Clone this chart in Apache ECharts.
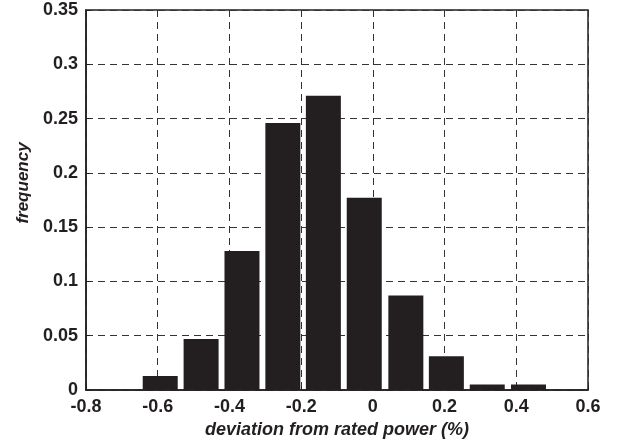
<!DOCTYPE html>
<html>
<head>
<meta charset="utf-8">
<script src="https://cdn.jsdelivr.net/npm/echarts@6/dist/echarts.min.js"></script>
<style>
html,body{margin:0;padding:0;background:#fff;}
#chart{width:620px;height:442px;}
</style>
</head>
<body>
<div id="chart"></div>
<script>
const binCenters = [-0.593, -0.479, -0.365, -0.251, -0.138, -0.024, 0.092, 0.205, 0.319, 0.434];
const frequency = [0.013, 0.047, 0.128, 0.246, 0.271, 0.177, 0.087, 0.031, 0.005, 0.005];
const xTitle = 'deviation from rated power (%)';
const yTitle = 'frequency';

const ink = '#231f20';
const font = 'Liberation Sans, Arial, Helvetica, sans-serif';
const chart = echarts.init(document.getElementById('chart'), null, {renderer: 'canvas'});
chart.setOption({
  animation: false,
  backgroundColor: '#ffffff',
  grid: {left: 86, right: 32, top: 10, bottom: 52, containLabel: false, outerBoundsMode: 'none',
         show: true, borderColor: ink, borderWidth: 1.5, backgroundColor: 'transparent'},
  xAxis: {
    type: 'value', min: -0.8, max: 0.6, interval: 0.2,
    name: xTitle, nameLocation: 'middle', nameGap: 31,
    nameTextStyle: {fontFamily: font, fontSize: 18, fontWeight: 'bold', fontStyle: 'italic', color: ink},
    axisLine: {show: true, onZero: false, lineStyle: {color: ink, width: 1.5}},
    axisTick: {show: true, inside: true, length: 4, lineStyle: {color: ink}},
    axisLabel: {fontFamily: font, fontSize: 18, fontWeight: 'bold', color: ink, margin: 8},
    splitLine: {show: true, lineStyle: {color: '#333', type: [7, 5], width: 1}}
  },
  yAxis: {
    type: 'value', min: 0, max: 0.35, interval: 0.05,
    name: yTitle, nameLocation: 'middle', nameGap: 53,
    nameTextStyle: {fontFamily: font, fontSize: 17, fontWeight: 'bold', fontStyle: 'italic', color: ink, padding: [0, 0, 0, 34]},
    axisLine: {show: true, onZero: false, lineStyle: {color: ink, width: 1.5}},
    axisTick: {show: true, inside: true, length: 4, lineStyle: {color: ink}},
    axisLabel: {fontFamily: font, fontSize: 18, fontWeight: 'bold', color: ink, margin: 8},
    splitLine: {show: true, lineStyle: {color: '#333', type: [7, 5], width: 1}}
  },
  series: [{
    type: 'bar',
    data: binCenters.map((c, i) => [c, frequency[i]]),
    barWidth: 35,
    itemStyle: {color: ink},
    z: 3
  }]
});
</script>
</body>
</html>
